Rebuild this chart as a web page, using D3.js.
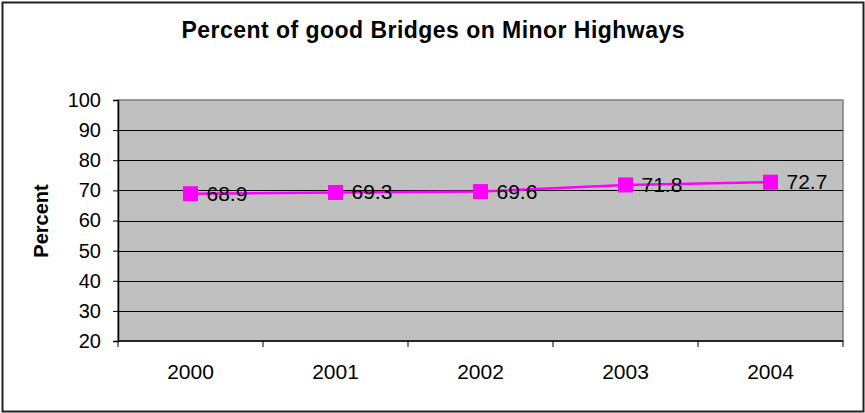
<!doctype html>
<html>
<head>
<meta charset="utf-8">
<style>
    body { margin: 0; background: #fff; }
    text { font-family: Arial, "Liberation Sans", sans-serif; }
</style>
</head>
<body>
<div class="chart"></div>
<script src="https://d3js.org/d3.v7.min.js"></script>
<script>

    // data
    let years = ['2000', '2001', '2002', '2003', '2004'];
    let percentGood = [68.9, 69.3, 69.6, 71.8, 72.7];
    let yTicks = [20, 30, 40, 50, 60, 70, 80, 90, 100];

    let width = 865;
    let height = 413;
    let margin = {top: 100, right: 22, bottom: 72, left: 118};
    let plotW = width - margin.left - margin.right;
    let plotH = height - margin.top - margin.bottom;

    let svg = d3.select('.chart').append('svg')
        .attr('width', width)
        .attr('height', height);

    // outer border
    svg.append('rect')
        .attr('x', 2.5).attr('y', 2.5)
        .attr('width', width - 4).attr('height', height - 4)
        .attr('fill', '#fff')
        .attr('stroke', '#222')
        .attr('stroke-width', 2);

    // title
    svg.append('text')
        .attr('x', 433).attr('y', 38)
        .attr('text-anchor', 'middle')
        .attr('font-size', '23px')
        .attr('font-weight', 'bold')
        .attr('textLength', 503)
        .attr('lengthAdjust', 'spacing')
        .text('Percent of good Bridges on Minor Highways');

    let x = d3.scaleBand().domain(years).range([0, plotW]).padding(0);
    let y = d3.scaleLinear().domain([20, 100]).range([plotH, 0]);

    let g = svg.append('g').attr('transform', `translate(${margin.left},${margin.top})`);

    // plot area
    g.append('rect')
        .attr('width', plotW).attr('height', plotH)
        .attr('fill', '#c0c0c0')
        .attr('stroke', '#808080')
        .attr('stroke-width', 1.5);

    // gridlines
    g.append('g').selectAll('line')
        .data(yTicks.filter(d => d > 20 && d < 100))
        .join('line')
        .attr('x1', 0).attr('x2', plotW)
        .attr('y1', d => Math.round(y(d)) + 0.5)
        .attr('y2', d => Math.round(y(d)) + 0.5)
        .attr('stroke', '#000')
        .attr('stroke-width', 1);

    // y axis
    let yAxis = g.append('g')
        .call(d3.axisLeft(y).tickValues(yTicks).tickSize(5).tickPadding(12));
    yAxis.select('.domain').attr('stroke', '#000').attr('stroke-width', 1.5);
    yAxis.selectAll('text').attr('font-size', '20px').attr('fill', '#000')
        .style('font-family', 'Arial, "Liberation Sans", sans-serif');

    // x axis: ticks at category boundaries
    let xAxis = g.append('g').attr('transform', `translate(0,${plotH})`);
    xAxis.append('line')
        .attr('x1', 0).attr('x2', plotW)
        .attr('stroke', '#000').attr('stroke-width', 1.5);
    let bounds = years.map(d => x(d)).concat([plotW]);
    xAxis.selectAll('line.tick')
        .data(bounds)
        .join('line')
        .attr('class', 'tick')
        .attr('x1', d => d).attr('x2', d => d)
        .attr('y1', 0).attr('y2', 6)
        .attr('stroke', '#000');
    xAxis.selectAll('text')
        .data(years)
        .join('text')
        .attr('x', d => x(d) + x.bandwidth() / 2)
        .attr('y', 38)
        .attr('text-anchor', 'middle')
        .attr('font-size', '21px')
        .text(d => d);

    // y axis title
    svg.append('text')
        .attr('transform', 'translate(48,221) rotate(-90)')
        .attr('text-anchor', 'middle')
        .attr('font-size', '20px')
        .attr('font-weight', 'bold')
        .text('Percent');

    let points = years.map((d, i) => ({year: d, value: percentGood[i]}));
    let cx = d => x(d.year) + x.bandwidth() / 2;

    // line
    g.append('path')
        .datum(points)
        .attr('fill', 'none')
        .attr('stroke', '#ff00ff')
        .attr('stroke-width', 2.5)
        .attr('d', d3.line().x(cx).y(d => y(d.value)));

    // markers
    g.append('g').selectAll('rect')
        .data(points)
        .join('rect')
        .attr('x', d => cx(d) - 7.5)
        .attr('y', d => y(d.value) - 7.5)
        .attr('width', 15).attr('height', 15)
        .attr('fill', '#ff00ff');

    // data labels
    g.append('g').selectAll('text')
        .data(points)
        .join('text')
        .attr('x', d => cx(d) + 16)
        .attr('y', d => y(d.value) + 7)
        .attr('font-size', '21px')
        .text(d => d.value);

</script>
</body>
</html>
